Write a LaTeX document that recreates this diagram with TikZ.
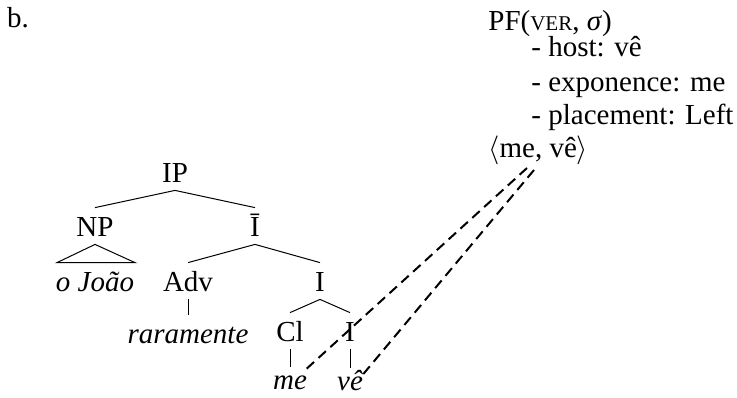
\documentclass[tikz,border=0pt]{standalone}
\usepackage{fontspec}
\setmainfont{Liberation Serif}
\begin{document}
\begin{tikzpicture}[x=0.5pt,y=-0.5pt,
  every node/.style={font=\fontsize{14.5pt}{17pt}\selectfont},
  tn/.style={inner xsep=0pt, inner ysep=4pt, text height=10pt, text depth=0pt},
  leaf/.style={tn, inner ysep=1pt},
  txt/.style={inner sep=0pt, anchor=base west},
  branch/.style={line width=0.5pt},
  link/.style={line width=1pt, dash pattern=on 5pt off 3pt}]
\useasboundingbox (0,0) rectangle (737,397);

% label of the example
\node[inner sep=0pt] (lbl) at (18,18) {b.};

% PF instruction block (base lines)
\node[txt] (pf) at (488,30) {PF({\fontsize{10.5pt}{12pt}\selectfont VER}, \textit{σ})};
\node[txt] (host) at (531,56) {- host: vê};
\node[txt] (expo) at (531,91) {- exponence: me};
\node[txt] (plac) at (531,124) {- placement: Left};
\node[txt] (pair) at (488,157) {$\langle$me, vê$\rangle$};

% syntactic tree
\node[tn] (IP) at (175,172) {IP};
\node[tn] (NP) at (95,226) {NP};
\node[tn] (Ibar) at (255,226) {Ī};
\node[tn] (joao) at (95,281) {\textit{o João}};
\node[tn] (Adv) at (188,281) {Adv};
\node[tn] (I) at (320,281) {I};
\node[tn] (rar) at (188,333) {\textit{raramente}};
\node[tn] (Cl) at (290,331) {Cl};
\node[tn] (I2) at (350,331) {I};
\node[leaf] (me) at (290,379) {\textit{me}};
\node[leaf] (ve) at (350,380) {\textit{vê}};

\draw[branch] (IP.south) -- (NP.north);
\draw[branch] (IP.south) -- (Ibar.north);
\draw[branch] (NP.south) -- ([xshift=-19pt]joao.north) -- ([xshift=20pt]joao.north) -- cycle;
\draw[branch] (Ibar.south) -- (Adv.north);
\draw[branch] (Ibar.south) -- (I.north);
\draw[branch] (Adv.south) -- (rar.north);
\draw[branch] (I.south) -- (Cl.north);
\draw[branch] (I.south) -- (I2.north);
\draw[branch] (Cl.south) -- (me.north);
\draw[branch] (I2.south) -- (ve.north);

% links from the PF pair down to the exponents
\coordinate (p1) at ([shift={(39,11)}]pair.base west);
\coordinate (p2) at ([shift={(46,13)}]pair.base west);
\draw[link] (p1) -- ([shift={(13,-7)}]me.center);
\draw[link] (p2) -- ([shift={(10,-2)}]ve.center);
\end{tikzpicture}
\end{document}
